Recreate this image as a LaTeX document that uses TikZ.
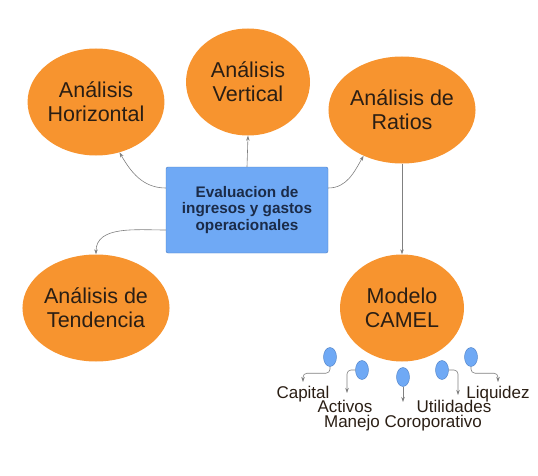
\documentclass[tikz,border=0pt]{standalone}
\usepackage{fontspec}
\setmainfont{Liberation Sans}
\usetikzlibrary{shapes.geometric,arrows.meta}
\definecolor{orng}{HTML}{F7942F}
\definecolor{bluefill}{HTML}{6FA9F5}
\definecolor{blueline}{HTML}{4A7CC0}
\definecolor{navy}{HTML}{1B2B48}
\definecolor{darktxt}{HTML}{2A1E14}
\definecolor{lgray}{HTML}{808080}

\begin{document}
\begin{tikzpicture}[x=1pt, y=1pt,
  main/.style = {ellipse, fill=orng, minimum width=124pt, minimum height=107pt, inner sep=0pt, align=center, text=darktxt, font=\fontsize{21.5}{24}\selectfont},
  box/.style = {draw=blueline, fill=bluefill, rounded corners=2pt, minimum width=162pt, minimum height=86pt, align=center, text=navy, font=\bfseries\fontsize{15.3}{16.8}\selectfont},
  dot/.style = {ellipse, draw=blueline, fill=bluefill, minimum width=13pt, minimum height=19pt, inner sep=0pt},
  lbl/.style = {anchor=base, inner sep=0pt, text=darktxt, font=\fontsize{17}{18}\selectfont},
  link/.style = {draw=lgray, line width=0.6pt, -{Stealth[length=5pt,width=3.5pt]}}]
	\useasboundingbox (0,0) rectangle (538,475);
	\node[main] (horiz) at (96,373) {Análisis\\Horizontal};
	\node[main] (vert) at (248,393) {Análisis\\Vertical};
	\node[main] (ratio) at (402,365) {Análisis de\\Ratios};
	\node[main] (tend) at (96,167) {Análisis de\\Tendencia};
	\node[main] (camel) at (402,167) {Modelo\\CAMEL};
	\node[box] (eval) at (247,265) {Evaluacion de\\ingresos y gastos\\operacionales};
	\draw[link] (eval.north) -- (vert.south);
	\draw[link] ([yshift=22pt]eval.west) to[out=180, in=-60] (horiz.-65);
	\draw[link] ([yshift=22pt]eval.east) to[out=0, in=-120] (ratio.-130);
	\draw[link] ([yshift=-20pt]eval.west) to[out=180, in=90] (tend.north);
	\draw[link] (ratio.south) -- (camel.north);
	% modelo camel
	\node[dot] (d1) at (330,118) {};
	\node[dot] (d2) at (362,105) {};
	\node[dot] (d3) at (403,98) {};
	\node[dot] (d4) at (442,105) {};
	\node[dot] (d5) at (471,118) {};
	\coordinate (a1) at (303,93);
	\coordinate (a2) at (347,82);
	\coordinate (a3) at (403,73);
	\coordinate (a4) at (458,80);
	\coordinate (a5) at (498,93);
	\node[lbl] (cap) at (303,77) {Capital};
	\node[lbl] (act) at (345,63) {Activos};
	\node[lbl] (man) at (403,48) {Manejo Coroporativo};
	\node[lbl] (uti) at (454,63) {Utilidades};
	\node[lbl] (liq) at (498,77) {Liquidez};
	\draw[link, rounded corners=4pt] (d1.south) -- ++(0,-6.5) -| (a1);
	\draw[link, rounded corners=4pt] (d2.west) -| (a2);
	\draw[link] (d3.south) -- (a3);
	\draw[link, rounded corners=4pt] (d4.east) -| (a4);
	\draw[link, rounded corners=4pt] (d5.south) -- ++(0,-6.5) -| (a5);
\end{tikzpicture}
\end{document}
